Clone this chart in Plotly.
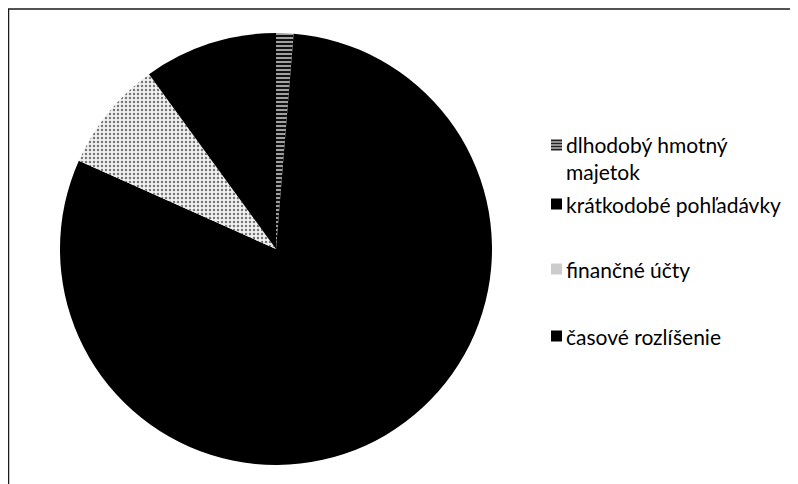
import plotly.graph_objects as go

labels = ["dlhodobý hmotný majetok", "krátkodobé pohľadávky", "finančné účty", "časové rozlíšenie"]
legend_text = ["dlhodobý hmotný<br>majetok", "krátkodobé pohľadávky", "finančné účty", "časové rozlíšenie"]
values = [1.3, 80.4, 8.3, 10.0]

W, H = 798, 484
fig = go.Figure()
fig.add_trace(go.Pie(
    labels=labels, values=values, sort=False, direction="clockwise", rotation=0,
    textinfo="none", hoverinfo="label+percent", showlegend=False,
    domain=dict(x=[52 / W, 484 / W], y=[(H - 457) / H, (H - 25) / H]),
    marker=dict(
        colors=["#111111", "#000000", "#dddddd", "#000000"],
        line=dict(width=0),
        pattern=dict(
            shape=["-", "", ".", ""],
            fgcolor=["#ffffff", "#000000", "#777777", "#000000"],
            bgcolor=["#111111", "#000000", "#f2f2f2", "#000000"],
            size=[4, 8, 4, 8], solidity=[0.3, 0.5, 0.3, 0.5],
        ),
    ),
))

# custom legend (Excel-style spacing), positions in px from top of figure
leg_y = [150, 196, 261, 328]
sym_y = [137, 196, 261, 328]
sym_col = ["#222222", "#000000", "#cccccc", "#000000"]
shapes = []
annotations = []
for i, (t, yy) in enumerate(zip(legend_text, leg_y)):
    sy = sym_y[i]
    shapes.append(dict(type="rect", xref="paper", yref="paper",
                       x0=543 / W, x1=554 / W, y0=1 - (sy + 5.5) / H, y1=1 - (sy - 5.5) / H,
                       fillcolor=sym_col[i], line=dict(width=0)))
    annotations.append(dict(text=t, xref="paper", yref="paper", x=556 / W, y=1 - yy / H,
                            xanchor="left", yanchor="middle", align="left", showarrow=False,
                            font=dict(family="Lato", size=21, color="#000000")))
# stripes in first legend symbol
for k in range(3):
    yl = sym_y[0] - 3 + k * 3
    shapes.append(dict(type="line", xref="paper", yref="paper", x0=543 / W, x1=554 / W,
                       y0=1 - yl / H, y1=1 - yl / H, line=dict(color="#ffffff", width=1)))
# frame (top and left edges)
shapes.append(dict(type="line", xref="paper", yref="paper", x0=0, x1=1, y0=1 - 1 / H, y1=1 - 1 / H,
                   line=dict(color="#1a1a1a", width=1.5)))
shapes.append(dict(type="line", xref="paper", yref="paper", x0=0.5 / W, x1=0.5 / W, y0=0, y1=1 - 1 / H,
                   line=dict(color="#1a1a1a", width=1.5)))

fig.update_layout(width=W, height=H, margin=dict(l=0, r=0, t=0, b=0),
                  paper_bgcolor="white", plot_bgcolor="white",
                  shapes=shapes, annotations=annotations)
fig.write_html("out.html")
